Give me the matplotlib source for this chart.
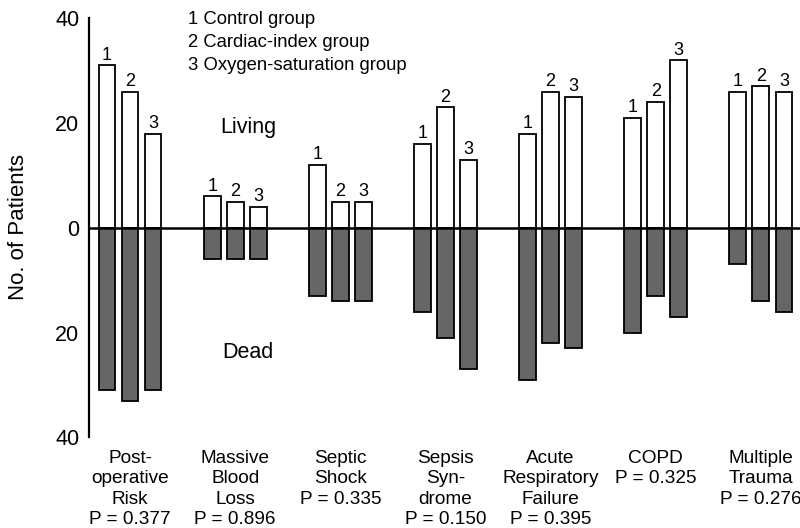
import matplotlib
matplotlib.use("Agg")
import matplotlib.pyplot as plt
import numpy as np

plt.rcParams['font.family'] = ['Liberation Sans', 'DejaVu Sans']

categories = ["Post-\noperative\nRisk\nP = 0.377",
              "Massive\nBlood\nLoss\nP = 0.896",
              "Septic\nShock\nP = 0.335",
              "Sepsis\nSyn-\ndrome\nP = 0.150",
              "Acute\nRespiratory\nFailure\nP = 0.395",
              "COPD\nP = 0.325",
              "Multiple\nTrauma\nP = 0.276"]
group_labels = ["1", "2", "3"]
legend_lines = ["1 Control group", "2 Cardiac-index group", "3 Oxygen-saturation group"]

living_control = [31, 6, 12, 16, 18, 21, 26]
living_cardiac = [26, 5, 5, 23, 26, 24, 27]
living_oxygen = [18, 4, 5, 13, 25, 32, 26]

dead_control = [31, 6, 13, 16, 29, 20, 7]
dead_cardiac = [33, 6, 14, 21, 22, 13, 14]
dead_oxygen = [31, 6, 14, 27, 23, 17, 16]

yticks = [-40, -20, 0, 20, 40]
yticklabels = ["40", "20", "0", "20", "40"]

W, H = 800, 528
fig = plt.figure(figsize=(8, 5.28), dpi=100)
ax = fig.add_axes([89 / W, 1 - 437.3 / H, (W - 89) / W, (437.3 - 18.3) / H])

x = np.arange(len(categories))
offsets = [-0.219, 0.0, 0.219]
width = 0.16
living = [living_control, living_cardiac, living_oxygen]
dead = [dead_control, dead_cardiac, dead_oxygen]

for k in range(3):
    lv = np.array(living[k])
    dv = np.array(dead[k])
    ax.bar(x + offsets[k], lv, width, color='white', edgecolor='black', linewidth=1.3, zorder=2)
    ax.bar(x + offsets[k], -dv, width, color='#666666', edgecolor='black', linewidth=1.3, zorder=2)
    for xi, v in zip(x + offsets[k], lv):
        ax.annotate(group_labels[k], (xi, v), xytext=(0, 1.2), textcoords='offset points',
                    ha='center', va='bottom', fontsize=13)

ax.axhline(0, color='black', linewidth=1.8, zorder=3)

ax.set_xlim(-0.39, 6.372)
ax.set_ylim(-40, 40)
ax.set_yticks(yticks)
ax.set_yticklabels(yticklabels, fontsize=15.5)
ax.set_xticks(x)
ax.set_xticklabels(categories, fontsize=13.7, linespacing=1.26, va='top')
ax.tick_params(axis='both', length=0)
ax.tick_params(axis='y', pad=7)
ax.tick_params(axis='x', pad=9)
for s in ['top', 'right', 'bottom']:
    ax.spines[s].set_visible(False)
ax.spines['left'].set_linewidth(1.6)

fig.text(19 / W, 1 - 227.5 / H, "No. of Patients", rotation=90, ha='center', va='center', fontsize=16)

for i, t in enumerate(legend_lines):
    fig.text(188 / W, 1 - (19 + 23.5 * i) / H, t, ha='left', va='center', fontsize=13.3)

fig.text(248 / W, 1 - 127 / H, "Living", ha='center', va='center', fontsize=15.5)
fig.text(248 / W, 1 - 352 / H, "Dead", ha='center', va='center', fontsize=15.5)

fig.savefig("out.png", dpi=100)
